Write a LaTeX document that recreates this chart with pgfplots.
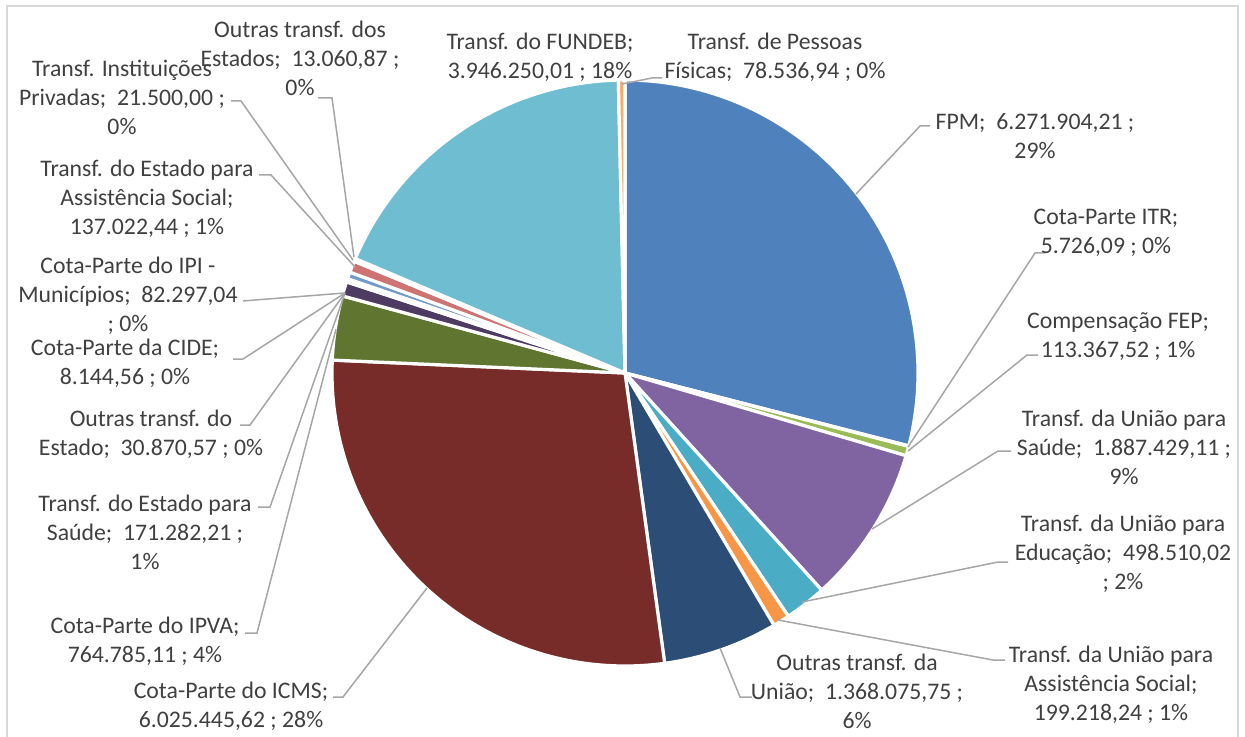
\documentclass[border=0pt]{standalone}
\usepackage{fontspec}
\setmainfont{Carlito}
\usepackage{pgfplots}
\pgfplotsset{compat=1.18}
\definecolor{cA}{HTML}{4F81BD}
\definecolor{cB}{HTML}{C0504D}
\definecolor{cC}{HTML}{9BBB59}
\definecolor{cD}{HTML}{8064A2}
\definecolor{cE}{HTML}{4BACC6}
\definecolor{cF}{HTML}{F79646}
\definecolor{cG}{HTML}{2C4D75}
\definecolor{cH}{HTML}{772C2A}
\definecolor{cI}{HTML}{5F7530}
\definecolor{cJ}{HTML}{4D3B62}
\definecolor{cK}{HTML}{276A7C}
\definecolor{cL}{HTML}{B65708}
\definecolor{cM}{HTML}{729ACA}
\definecolor{cN}{HTML}{CD7371}
\definecolor{cO}{HTML}{AFC97A}
\definecolor{cP}{HTML}{A99BBD}
\definecolor{cQ}{HTML}{6FBDD1}
\definecolor{cR}{HTML}{F9AB6B}
\definecolor{txt}{HTML}{404040}
\definecolor{ldr}{HTML}{A6A6A6}
\definecolor{frm}{HTML}{D9D9D9}
% values (R$)
\def\vA{6271904.21}% FPM
\def\vB{5726.09}% Cota-Parte ITR
\def\vC{113367.52}% Compensacao FEP
\def\vD{1887429.11}% Uniao Saude
\def\vE{498510.02}% Uniao Educacao
\def\vF{199218.24}% Uniao Assistencia Social
\def\vG{1368075.75}% Outras transf. da Uniao
\def\vH{6025445.62}% ICMS
\def\vI{764785.11}% IPVA
\def\vJ{171282.21}% Estado Saude
\def\vK{30870.57}% Outras transf. do Estado
\def\vL{8144.56}% CIDE
\def\vM{82297.04}% IPI
\def\vN{137022.44}% Estado Assistencia Social
\def\vO{21500.00}% Instituicoes Privadas
\def\vP{13060.87}% Outras transf. dos Estados
\def\vQ{3946250.01}% FUNDEB
\def\vR{78536.94}% Pessoas Fisicas
\edef\T{\fpeval{\vA+\vB+\vC+\vD+\vE+\vF+\vG+\vH+\vI+\vJ+\vK+\vL+\vM+\vN+\vO+\vP+\vQ+\vR}}
\def\sA{0}
\edef\eA{\fpeval{\sA+360*\vA/\T}}
\edef\eB{\fpeval{\eA+360*\vB/\T}}
\edef\eC{\fpeval{\eB+360*\vC/\T}}
\edef\eD{\fpeval{\eC+360*\vD/\T}}
\edef\eE{\fpeval{\eD+360*\vE/\T}}
\edef\eF{\fpeval{\eE+360*\vF/\T}}
\edef\eG{\fpeval{\eF+360*\vG/\T}}
\edef\eH{\fpeval{\eG+360*\vH/\T}}
\edef\eI{\fpeval{\eH+360*\vI/\T}}
\edef\eJ{\fpeval{\eI+360*\vJ/\T}}
\edef\eK{\fpeval{\eJ+360*\vK/\T}}
\edef\eL{\fpeval{\eK+360*\vL/\T}}
\edef\eM{\fpeval{\eL+360*\vM/\T}}
\edef\eN{\fpeval{\eM+360*\vN/\T}}
\edef\eO{\fpeval{\eN+360*\vO/\T}}
\edef\eP{\fpeval{\eO+360*\vP/\T}}
\edef\eQ{\fpeval{\eP+360*\vQ/\T}}
\def\eR{360}
\newcommand\slice[3]{%
  \addplot[fill=#1, draw=white, line width=1.6pt, line join=round, domain=#2:#3, samples=90]
    ({625+293*sin(x)},{373-293*cos(x)}) -- (axis cs:625,373) -- cycle;}
\begin{document}
\begin{tikzpicture}
\begin{axis}[at={(0,0)}, anchor=south west, scale only axis,
  width=622.5pt, height=368.5pt,
  xmin=0, xmax=1245, ymin=0, ymax=737, y dir=reverse,
  hide axis, clip=false]
\draw[frm, line width=0.75pt] (axis cs:7,6) rectangle (axis cs:1238,760);
\slice{cA}{\sA}{\eA}
\slice{cB}{\eA}{\eB}
\slice{cC}{\eB}{\eC}
\slice{cD}{\eC}{\eD}
\slice{cE}{\eD}{\eE}
\slice{cF}{\eE}{\eF}
\slice{cG}{\eF}{\eG}
\slice{cH}{\eG}{\eH}
\slice{cI}{\eH}{\eI}
\slice{cJ}{\eI}{\eJ}
\slice{cK}{\eJ}{\eK}
\slice{cL}{\eK}{\eL}
\slice{cM}{\eL}{\eM}
\slice{cN}{\eM}{\eN}
\slice{cO}{\eN}{\eO}
\slice{cP}{\eO}{\eP}
\slice{cQ}{\eP}{\eQ}
\slice{cR}{\eQ}{\eR}
% leader lines
\tikzset{ld/.style={ldr, line width=0.75pt}}
\draw[ld] (axis cs:318,98) -- (axis cs:332,98) -- (axis cs:354,257);
\draw[ld] (axis cs:231,101) -- (axis cs:241,101) -- (axis cs:353,260);
\draw[ld] (axis cs:259,175) -- (axis cs:271,175) -- (axis cs:355,267);
\draw[ld] (axis cs:243,301) -- (axis cs:255,300) -- (axis cs:345,293);
\draw[ld] (axis cs:233,359) -- (axis cs:243,359) -- (axis cs:345,293);
\draw[ld] (axis cs:240,425) -- (axis cs:250,425) -- (axis cs:345,293);
\draw[ld] (axis cs:258,507) -- (axis cs:270,507) -- (axis cs:345,293);
\draw[ld] (axis cs:245,633) -- (axis cs:257,633) -- (axis cs:336,329);
\draw[ld] (axis cs:333,697) -- (axis cs:343,697) -- (axis cs:427,588);
\draw[ld] (axis cs:752,697) -- (axis cs:740,697) -- (axis cs:720,648);
\draw[ld] (axis cs:1005,660) -- (axis cs:993,660) -- (axis cs:778,620);
\draw[ld] (axis cs:1008,562) -- (axis cs:998,562) -- (axis cs:802,602);
\draw[ld] (axis cs:1011,451) -- (axis cs:998,451) -- (axis cs:872,529);
\draw[ld] (axis cs:1038,355) -- (axis cs:1027,355) -- (axis cs:908,451);
\draw[ld] (axis cs:1045,253) -- (axis cs:1035,253) -- (axis cs:908,447);
\draw[ld] (axis cs:930,126) -- (axis cs:920,126) -- (axis cs:856,194);
\draw[ld] (axis cs:662,78) -- (axis cs:652,78) -- (axis cs:622,84);
% labels
\tikzset{lb/.style={txt, inner sep=0pt, align=center, anchor=center,
  font=\fontsize{11.875}{14.5}\selectfont}}
\node[lb] at (axis cs:300,58) {Outras transf. dos\\Estados;~ 13.060,87 ;\\0\%};
\node[lb] at (axis cs:122,97) {Transf. Instituições\\Privadas;~ 21.500,00 ;\\0\%};
\node[lb] at (axis cs:147,199) {Transf. do Estado para\\Assistência Social;\\137.022,44 ; 1\%};
\node[lb] at (axis cs:128,296) {Cota-Parte do IPI -\\Municípios;~ 82.297,04\\; 0\%};
\node[lb] at (axis cs:125,363) {Cota-Parte da CIDE;\\8.144,56 ; 0\%};
\node[lb] at (axis cs:151,434) {Outras transf. do\\Estado;~ 30.870,57 ; 0\%};
\node[lb] at (axis cs:145,532) {Transf. do Estado para\\Saúde;~ 171.282,21 ;\\1\%};
\node[lb] at (axis cs:145,641) {Cota-Parte do IPVA;\\764.785,11 ; 4\%};
\node[lb] at (axis cs:231,706) {Cota-Parte do ICMS;\\6.025.445,62 ; 28\%};
\node[lb] at (axis cs:857,691) {Outras transf. da\\União;~ 1.368.075,75 ;\\6\%};
\node[lb] at (axis cs:1111,685) {Transf. da União para\\Assistência Social;\\199.218,24 ; 1\%};
\node[lb] at (axis cs:1123,554) {Transf. da União para\\Educação;~ 498.510,02\\; 2\%};
\node[lb] at (axis cs:1124,447) {Transf. da União para\\Saúde;~ 1.887.429,11 ;\\9\%};
\node[lb] at (axis cs:1118,337) {Compensação FEP;\\113.367,52 ; 1\%};
\node[lb] at (axis cs:1106,233) {Cota-Parte ITR;\\5.726,09 ; 0\%};
\node[lb] at (axis cs:1035,136) {FPM;~ 6.271.904,21 ;\\29\%};
\node[lb] at (axis cs:775,57) {Transf. de Pessoas\\Físicas;~ 78.536,94 ; 0\%};
\node[lb] at (axis cs:540,57) {Transf. do FUNDEB;\\3.946.250,01 ; 18\%};
\end{axis}
\pgfresetboundingbox
\path[use as bounding box] (0,0) rectangle (622.5pt,368.5pt);
\end{tikzpicture}
\end{document}
